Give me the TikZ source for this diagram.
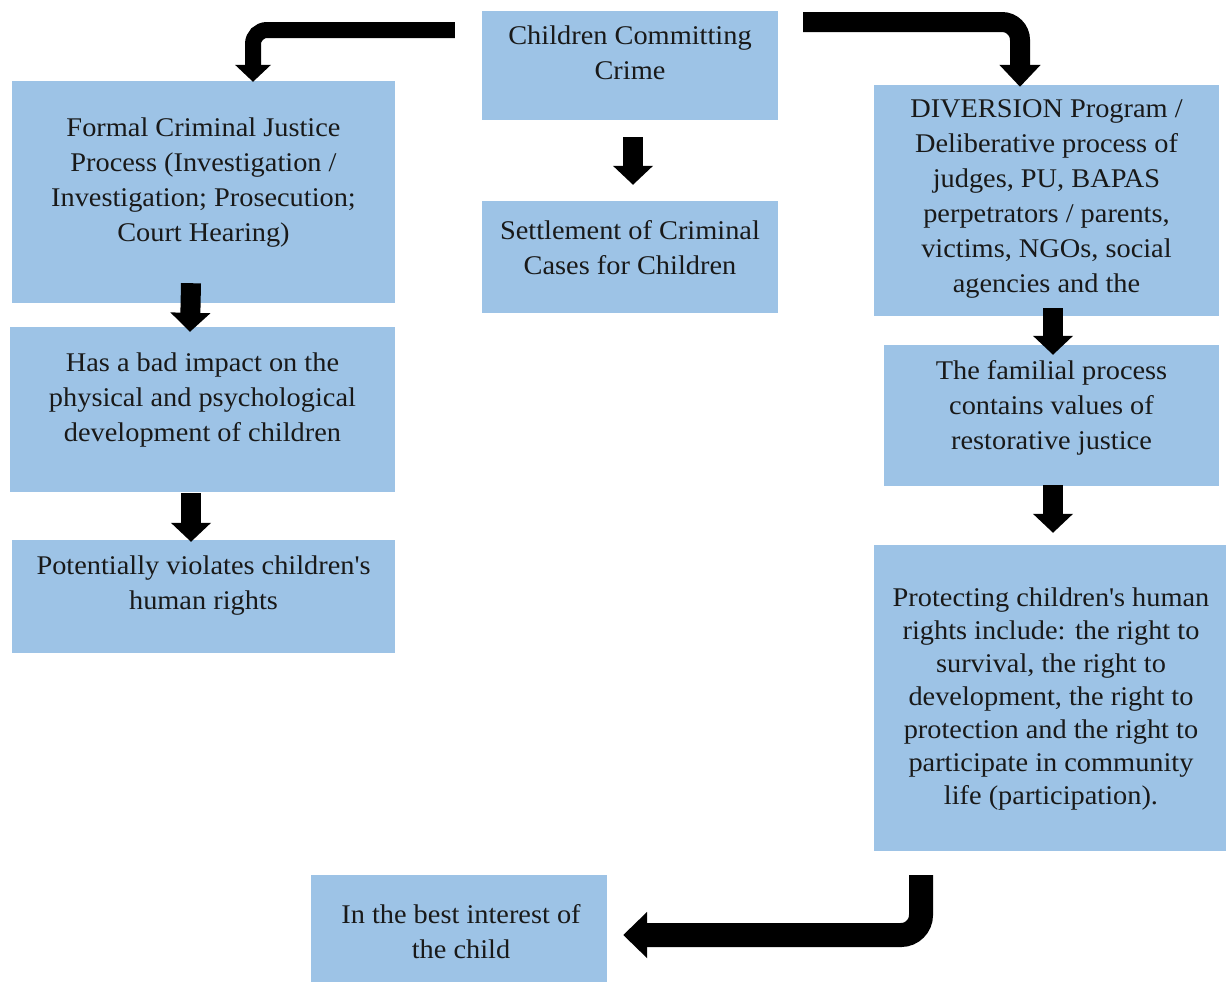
\documentclass[tikz,border=0pt]{standalone}
\usepackage{fontspec}
\setmainfont{Liberation Serif}[FakeStretch=1.05]
\usetikzlibrary{arrows.meta}
\definecolor{boxblue}{HTML}{9DC3E6}
\tikzset{
  box/.style={fill=boxblue, draw=none, inner sep=0pt, rectangle},
  txt/.style={align=center, inner sep=0pt, font=\fontsize{27}{35}\selectfont, text=black!90},
  fatsmall/.style={line width=20pt, -{Triangle[width=39pt,length=19pt]}},
  fatA/.style={line width=16pt, rounded corners=14pt, -{Triangle[width=35pt,length=17pt]}},
  fatB/.style={line width=20pt, rounded corners=18pt, -{Triangle[width=40pt,length=22pt]}},
  fatC/.style={line width=24pt, rounded corners=20pt, -{Triangle[width=45pt,length=24pt]}}
}
\begin{document}
\begin{tikzpicture}[x=1pt,y=-1pt]
\useasboundingbox (0,0) rectangle (1226,983);
% boxes
\node[box, minimum width=296pt, minimum height=109pt] (crime) at (630,65.5) {};
\node[box, minimum width=296pt, minimum height=112pt] (settle) at (630,257) {};
\node[box, minimum width=383pt, minimum height=222pt] (formal) at (203.5,192) {};
\node[box, minimum width=385pt, minimum height=165pt] (bad) at (202.5,409.5) {};
\node[box, minimum width=383pt, minimum height=113pt] (pot) at (203.5,596.5) {};
\node[box, minimum width=345pt, minimum height=231pt] (div) at (1046.5,200.5) {};
\node[box, minimum width=335pt, minimum height=141pt] (fam) at (1051.5,415.5) {};
\node[box, minimum width=352pt, minimum height=306pt] (prot) at (1050,698) {};
\node[box, minimum width=296pt, minimum height=107pt] (best) at (459,928.5) {};
% texts
\node[txt] (crime-t) at (630,52.5) {Children Committing\\Crime};
\node[txt] (settle-t) at (630,248) {Settlement of Criminal\\Cases for Children};
\node[txt] (formal-t) at (203.5,182.5) {Formal Criminal Justice\\Process (Investigation /\\Investigation; Prosecution;\\Court Hearing)};
\node[txt] (bad-t) at (202.5,400) {Has a bad impact on the\\physical and psychological\\development of children};
\node[txt] (pot-t) at (203.5,586) {Potentially violates children\textquotesingle s\\human rights};
\node[txt] (div-t) at (1046.5,199) {DIVERSION Program /\\Deliberative process of\\judges, PU, BAPAS\\perpetrators / parents,\\victims, NGOs, social\\agencies and the};
\node[txt] (fam-t) at (1051.5,408) {The familial process\\contains values of\\restorative justice};
\node[txt, font=\fontsize{27}{33}\selectfont] (prot-t) at (1051,699) {Protecting children\textquotesingle s human\\rights include: the right to\\survival, the right to\\development, the right to\\protection and the right to\\participate in community\\life (participation).};
\node[txt] (best-t) at (461,932) {In the best interest of\\the child};
% arrows
\draw[fatA] ([xshift=-27pt]crime.west |- 0,30) -| ([xshift=49.5pt,yshift=-1pt]formal.north);
\draw[fatB] ([xshift=25pt]crime.east |- 0,22) -| ([xshift=-26.5pt,yshift=-2pt]div.north);
\draw[fatC] ([xshift=-129pt,yshift=-24pt]prot.south) |- ([xshift=16pt,yshift=-6.5pt]best.east);
\draw[fatsmall] ([xshift=3pt,yshift=-17pt]crime.south) -- ([xshift=3pt,yshift=16pt]settle.north);
\draw[fatsmall] ([xshift=-12.5pt,yshift=20pt]formal.south) -- ([xshift=-12.5pt,yshift=-5pt]bad.north);
\draw[fatsmall] ([xshift=-11.5pt,yshift=-1pt]bad.south) -- ([xshift=-12.5pt,yshift=-2pt]pot.north);
\draw[fatsmall] ([xshift=6.5pt,yshift=8pt]div.south) -- ([xshift=1.5pt,yshift=-10pt]fam.north);
\draw[fatsmall] ([xshift=1.5pt,yshift=1pt]fam.south) -- ([xshift=3pt,yshift=12pt]prot.north);
\end{tikzpicture}
\end{document}
